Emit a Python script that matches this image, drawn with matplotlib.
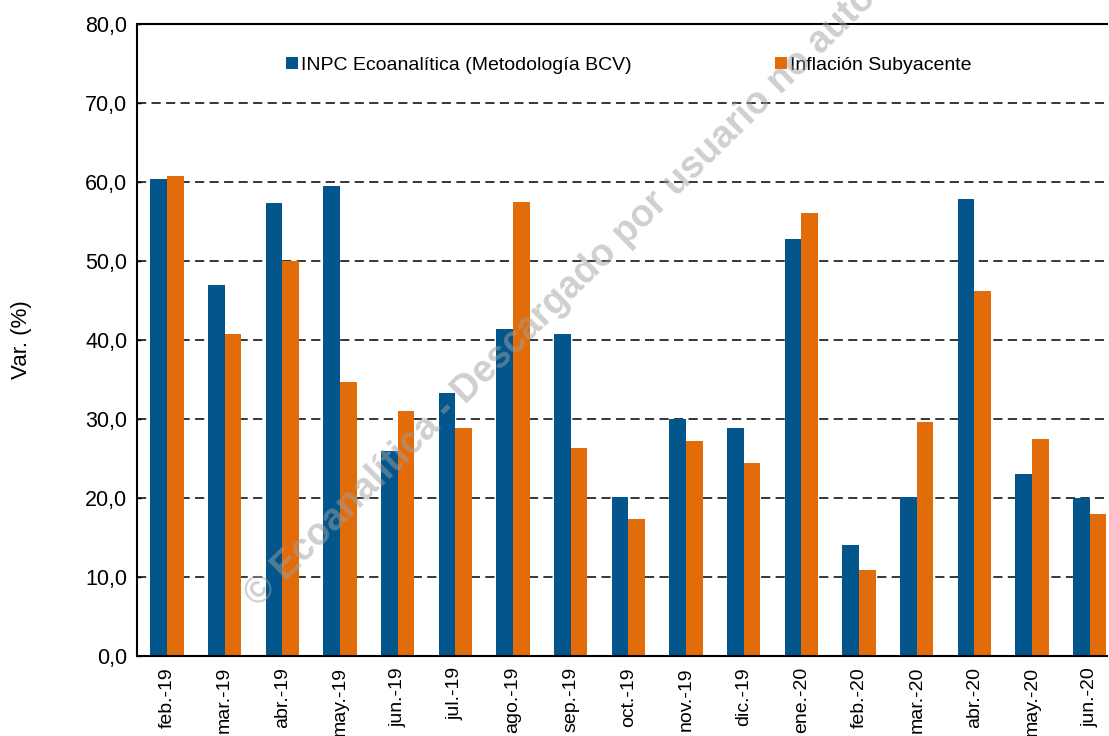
import matplotlib
matplotlib.use("Agg")
import matplotlib.pyplot as plt
from matplotlib.ticker import FuncFormatter
import numpy as np

plt.rcParams['font.family'] = ['Liberation Sans', 'DejaVu Sans']

categories = ["feb.-19", "mar.-19", "abr.-19", "may.-19", "jun.-19", "jul.-19",
              "ago.-19", "sep.-19", "oct.-19", "nov.-19", "dic.-19", "ene.-20",
              "feb.-20", "mar.-20", "abr.-20", "may.-20", "jun.-20"]
inpc = [60.4, 46.9, 57.3, 59.5, 26.0, 33.3, 41.4, 40.8, 20.1, 30.0, 28.9, 52.8,
        14.0, 20.1, 57.8, 23.0, 20.0]
subyacente = [60.7, 40.8, 50.0, 34.7, 31.0, 28.9, 57.5, 26.3, 17.3, 27.2, 24.4, 56.1,
              10.9, 29.6, 46.2, 27.5, 18.0]
series_names = ["INPC Ecoanalítica (Metodología BCV)", "Inflación Subyacente"]
yticks = [0, 10, 20, 30, 40, 50, 60, 70, 80]

blue = "#02568b"
orange = "#e36c0a"

fig = plt.figure(figsize=(11.09, 7.36), dpi=100)
ax = fig.add_axes([137/1109, 80/736, 970/1109, 632/736])

x = np.arange(len(categories))
w = 0.29
ax.bar(x - w/2, inpc, width=w, color=blue, label=series_names[0], zorder=2)
ax.bar(x + w/2, subyacente, width=w, color=orange, label=series_names[1], zorder=2)

ax.set_xlim(-0.52, 16.3)
ax.set_ylim(0, 80)
ax.set_yticks(yticks)
ax.yaxis.set_major_formatter(FuncFormatter(lambda v, p: f"{v:.1f}".replace(".", ",")))
for t in yticks[1:-1]:
    ax.axhline(t, color="black", lw=1.1, linestyle=(0, (6, 3.5)), zorder=1)

ax.set_xticks(x)
ax.set_xticklabels(categories, rotation=90, fontsize=14)
ax.tick_params(axis='x', length=0, pad=8)
ax.tick_params(axis='y', direction='in', length=3, labelsize=15.5, pad=7, width=1)

ax.spines['right'].set_visible(False)
for s in ['left', 'bottom', 'top']:
    ax.spines[s].set_linewidth(1.5)
    ax.spines[s].set_color('black')

ax.set_ylabel("Var. (%)", fontsize=16, labelpad=38)

leg = ax.legend(loc='center', bbox_to_anchor=(0.507, 0.935), ncol=2, frameon=False,
                fontsize=14, handlelength=0.6, handleheight=0.6,
                handletextpad=0.15, columnspacing=7.4)

fig.text(258/1109, 1 - 608/736,
         "© Ecoanalítica - Descargado por usuario no autorizado",
         rotation=44.5, rotation_mode='anchor', ha='left', va='baseline',
         fontsize=27, fontweight='bold', color='#a0a0a0', alpha=0.5, zorder=10)

fig.savefig("out.png", dpi=100)
